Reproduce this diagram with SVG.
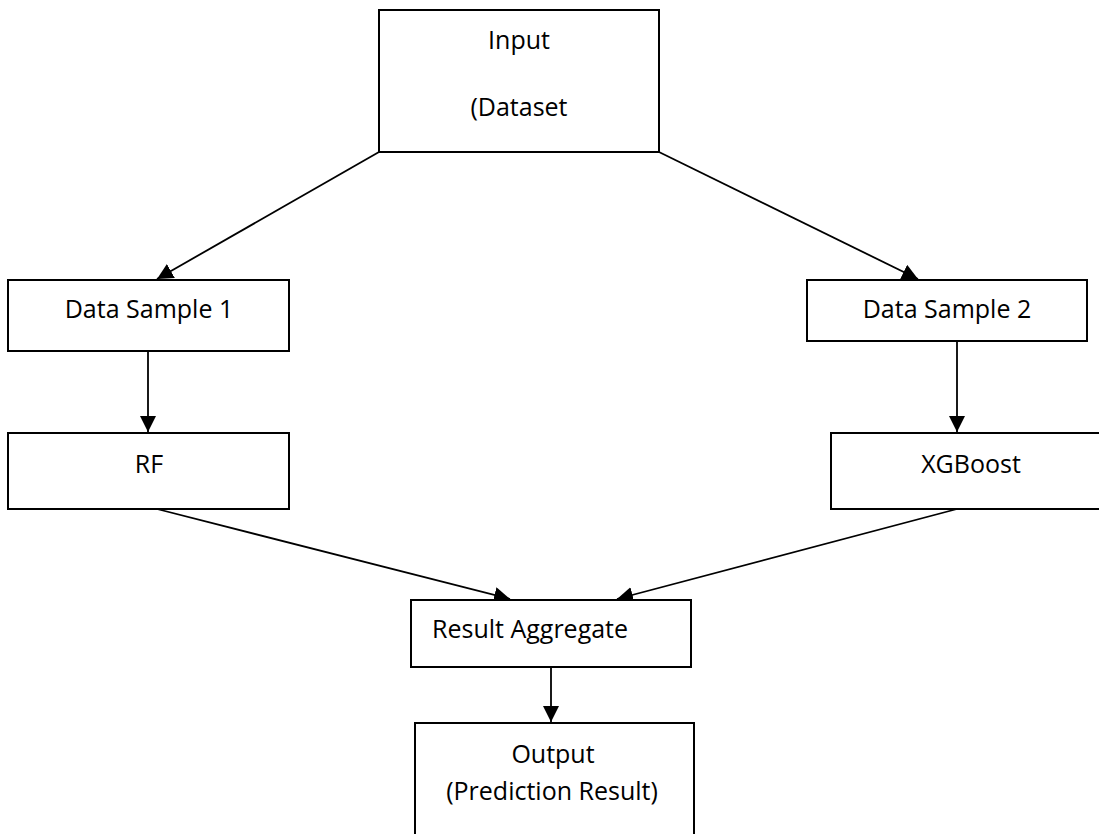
<svg xmlns="http://www.w3.org/2000/svg" width="1099" height="834" viewBox="0 0 1099 834">
  <style>
    .box { fill: #ffffff; stroke: #000000; stroke-width: 2; }
    .label { font-family: "Open Sans", "Liberation Sans", sans-serif; font-size: 25px; fill: #000000; }
    .mid { text-anchor: middle; }
    .edge { stroke: #000000; stroke-width: 1.8; fill: none; marker-end: url(#arrow); }
  </style>
  <defs>
    <marker id="arrow" markerUnits="userSpaceOnUse" markerWidth="17" markerHeight="17" refX="16" refY="8" orient="auto">
      <path d="M0,0 L16,8 L0,16 Z" fill="#000000"/>
    </marker>
  </defs>
  <rect width="1099" height="834" fill="#ffffff"/>

  <!-- connectors -->
  <g id="connectors">
    <line class="edge" x1="379" y1="152" x2="157" y2="279"/>
    <line class="edge" x1="659" y1="152" x2="918" y2="279"/>
    <line class="edge" x1="148" y1="351" x2="148" y2="432"/>
    <line class="edge" x1="957" y1="341" x2="957" y2="432"/>
    <line class="edge" x1="157" y1="509" x2="510" y2="599"/>
    <line class="edge" x1="957" y1="509" x2="617" y2="599"/>
    <line class="edge" x1="551" y1="667" x2="551" y2="722"/>
  </g>

  <!-- nodes -->
  <g id="input">
    <rect class="box" x="379" y="10" width="280" height="142"/>
    <text class="label mid" x="519" y="49">Input</text>
    <text class="label mid" x="519" y="116">(Dataset</text>
  </g>
  <g id="sample1">
    <rect class="box" x="8" y="280" width="281" height="71"/>
    <text class="label mid" x="149" y="318">Data Sample 1</text>
  </g>
  <g id="sample2">
    <rect class="box" x="807" y="280" width="280" height="61"/>
    <text class="label mid" x="947" y="318">Data Sample 2</text>
  </g>
  <g id="rf">
    <rect class="box" x="8" y="433" width="281" height="76"/>
    <text class="label mid" x="149" y="473">RF</text>
  </g>
  <g id="xgboost">
    <rect class="box" x="831" y="433" width="290" height="76"/>
    <text class="label mid" x="971" y="473">XGBoost</text>
  </g>
  <g id="aggregate">
    <rect class="box" x="411" y="600" width="280" height="67"/>
    <text class="label" x="432" y="638">Result Aggregate</text>
  </g>
  <g id="output">
    <rect class="box" x="415" y="723" width="279" height="130"/>
    <text class="label mid" x="553" y="763">Output</text>
    <text class="label mid" x="552" y="800">(Prediction Result)</text>
  </g>
</svg>
